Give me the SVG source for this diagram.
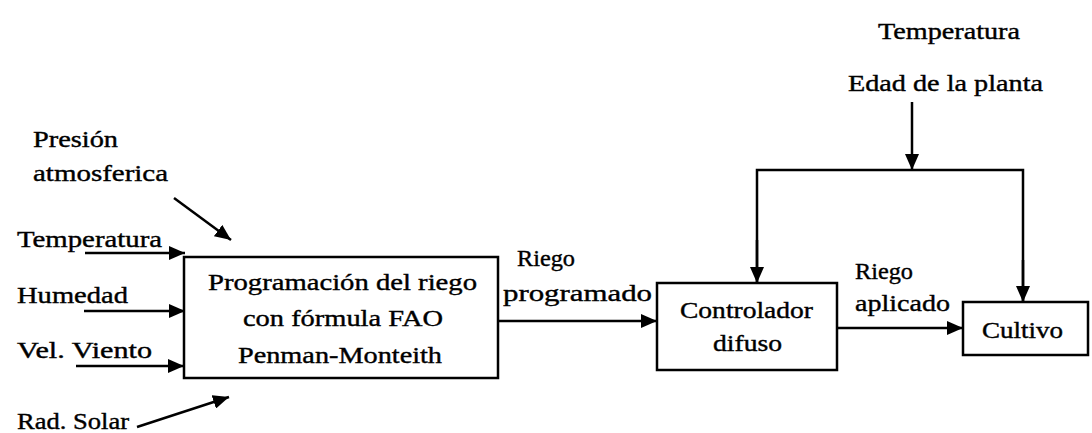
<svg xmlns="http://www.w3.org/2000/svg" width="1092" height="433" viewBox="0 0 1092 433">
<defs>
<marker id="ah" viewBox="0 0 16 14" refX="16" refY="7" markerWidth="16" markerHeight="14" markerUnits="userSpaceOnUse" orient="auto">
<path d="M0,0 L16,7 L0,14 Z" fill="#000"/>
</marker>
</defs>
<style>
text{font-family:'Liberation Serif','DejaVu Serif','Times New Roman',serif;font-size:24px;fill:#000;stroke:#000;stroke-width:0.4}
.box{fill:#fff;stroke:#000;stroke-width:2.5}
.ln{fill:none;stroke:#000;stroke-width:2.5}
.ar{fill:none;stroke:#000;stroke-width:2.5;marker-end:url(#ah)}
</style>
<rect width="1092" height="433" fill="#fff"/>
<g id="connectors">
<line class="ar" x1="85" y1="253" x2="185" y2="253"/>
<line class="ar" x1="84" y1="311" x2="185" y2="311"/>
<line class="ar" x1="76" y1="366" x2="184" y2="366"/>
<line class="ar" x1="174" y1="198" x2="231" y2="240"/>
<line class="ar" x1="137" y1="427" x2="229" y2="397"/>
<line class="ar" x1="498" y1="321" x2="657" y2="321"/>
<line class="ar" x1="837" y1="328" x2="963" y2="328"/>
<line class="ar" x1="912" y1="102" x2="912" y2="170"/>
<polyline class="ln" points="757,282 757,170 1023,170 1023,302"/>
<line class="ar" x1="757" y1="240" x2="757" y2="283"/>
<line class="ar" x1="1023" y1="260" x2="1023" y2="302"/>
</g>
<g id="inputs">
<text x="17" y="247" textLength="145" lengthAdjust="spacingAndGlyphs" font-family="Liberation Serif, DejaVu Serif, serif">Temperatura</text>
<text x="17" y="303" textLength="111" lengthAdjust="spacingAndGlyphs" font-family="Liberation Serif, DejaVu Serif, serif">Humedad</text>
<text x="17" y="358" textLength="135" lengthAdjust="spacingAndGlyphs" font-family="Liberation Serif, DejaVu Serif, serif">Vel. Viento</text>
<text x="17" y="429" textLength="112" lengthAdjust="spacingAndGlyphs" font-family="Liberation Serif, DejaVu Serif, serif">Rad. Solar</text>
<text x="33" y="147" textLength="85" lengthAdjust="spacingAndGlyphs" font-family="Liberation Serif, DejaVu Serif, serif">Presión</text>
<text x="33" y="181" textLength="135" lengthAdjust="spacingAndGlyphs" font-family="Liberation Serif, DejaVu Serif, serif">atmosferica</text>
<text x="878" y="39" textLength="142" lengthAdjust="spacingAndGlyphs" font-family="Liberation Serif, DejaVu Serif, serif">Temperatura</text>
<text x="848" y="91" textLength="195" lengthAdjust="spacingAndGlyphs" font-family="Liberation Serif, DejaVu Serif, serif">Edad de la planta</text>
<text x="517" y="266" textLength="58" lengthAdjust="spacingAndGlyphs" font-family="Liberation Serif, DejaVu Serif, serif">Riego</text>
<text x="503" y="301" textLength="149" lengthAdjust="spacingAndGlyphs" font-family="Liberation Serif, DejaVu Serif, serif">programado</text>
<text x="855" y="279" textLength="58" lengthAdjust="spacingAndGlyphs" font-family="Liberation Serif, DejaVu Serif, serif">Riego</text>
<text x="855" y="311" textLength="95" lengthAdjust="spacingAndGlyphs" font-family="Liberation Serif, DejaVu Serif, serif">aplicado</text>
</g>
<g id="node-programacion">
<rect class="box" x="184" y="257" width="314" height="121"/>
<text x="208" y="290" textLength="269" lengthAdjust="spacingAndGlyphs" font-family="Liberation Serif, DejaVu Serif, serif">Programación del riego</text>
<text x="243" y="326" textLength="200" lengthAdjust="spacingAndGlyphs" font-family="Liberation Serif, DejaVu Serif, serif">con fórmula FAO</text>
<text x="238" y="363" textLength="204" lengthAdjust="spacingAndGlyphs" font-family="Liberation Serif, DejaVu Serif, serif">Penman-Monteith</text>
</g>
<g id="node-controlador">
<rect class="box" x="657" y="283" width="180" height="87"/>
<text x="680" y="318" textLength="133" lengthAdjust="spacingAndGlyphs" font-family="Liberation Serif, DejaVu Serif, serif">Controlador</text>
<text x="713" y="351" textLength="69" lengthAdjust="spacingAndGlyphs" font-family="Liberation Serif, DejaVu Serif, serif">difuso</text>
</g>
<g id="node-cultivo">
<rect class="box" x="963" y="302" width="125" height="53"/>
<text x="982" y="338" textLength="81" lengthAdjust="spacingAndGlyphs" font-family="Liberation Serif, DejaVu Serif, serif">Cultivo</text>
</g>
</svg>
